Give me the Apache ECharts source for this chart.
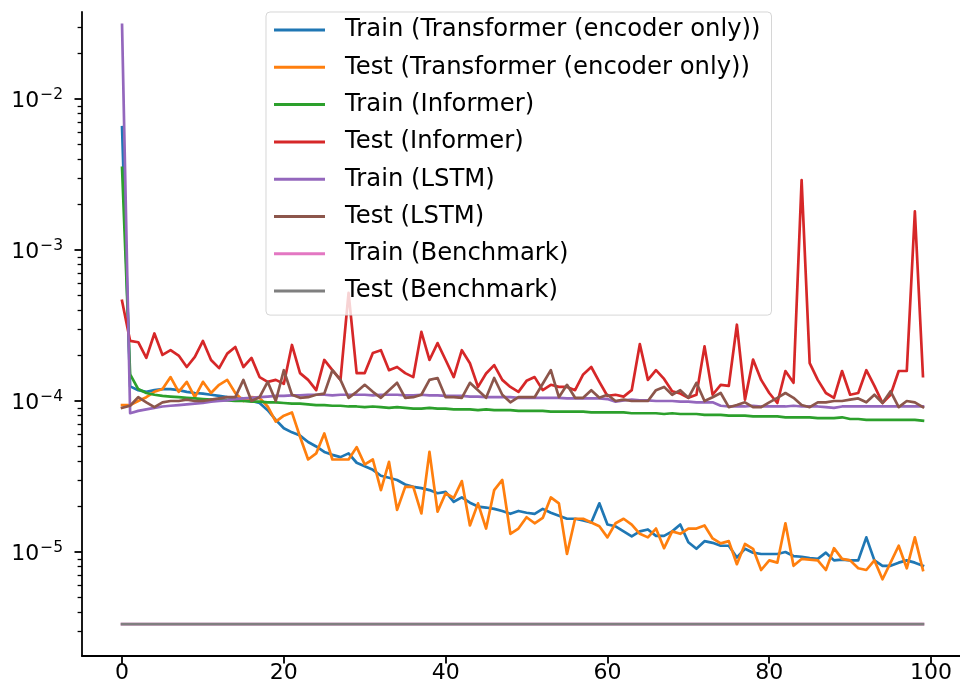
<!DOCTYPE html>
<html>
<head>
<meta charset="utf-8">
<script src="https://cdn.jsdelivr.net/npm/echarts@6/dist/echarts.min.js"></script>
<style>
html,body{margin:0;padding:0;background:#fff;}
#chart{width:960px;height:693px;}
</style>
</head>
<body>
<div id="chart"></div>
<script>
// ---------------- DATA ----------------
const epochs = [0,1,2,3,4,5,6,7,8,9,10,11,12,13,14,15,16,17,18,19,20,21,22,23,24,25,26,27,28,29,30,31,32,33,34,35,36,37,38,39,40,41,42,43,44,45,46,47,48,49,50,51,52,53,54,55,56,57,58,59,60,61,62,63,64,65,66,67,68,69,70,71,72,73,74,75,76,77,78,79,80,81,82,83,84,85,86,87,88,89,90,91,92,93,94,95,96,97,98,99];

const seriesNames = [
  'Train (Transformer (encoder only))',
  'Test (Transformer (encoder only))',
  'Train (Informer)',
  'Test (Informer)',
  'Train (LSTM)',
  'Test (LSTM)',
  'Train (Benchmark)',
  'Test (Benchmark)'
];

const trainTransformer = [6.5e-3,1.25e-4,1.18e-4,1.15e-4,1.18e-4,1.2e-4,1.2e-4,1.18e-4,1.15e-4,1.13e-4,
1.12e-4,1.1e-4,1.08e-4,1.06e-4,1.05e-4,1.04e-4,1.0e-4,9.7e-5,8.7e-5,7.5e-5,
6.6e-5,6.2e-5,5.9e-5,5.35e-5,5.0e-5,4.6e-5,4.4e-5,4.25e-5,4.5e-5,3.9e-5,
3.7e-5,3.5e-5,3.2e-5,3.1e-5,3.0e-5,2.8e-5,2.7e-5,2.65e-5,2.57e-5,2.45e-5,
2.5e-5,2.15e-5,2.3e-5,2.12e-5,2.0e-5,1.97e-5,1.93e-5,1.87e-5,1.79e-5,1.87e-5,
1.82e-5,1.79e-5,1.93e-5,1.82e-5,1.74e-5,1.66e-5,1.66e-5,1.62e-5,1.57e-5,2.1e-5,
1.52e-5,1.48e-5,1.37e-5,1.27e-5,1.37e-5,1.41e-5,1.28e-5,1.28e-5,1.37e-5,1.52e-5,
1.16e-5,1.05e-5,1.18e-5,1.15e-5,1.1e-5,1.1e-5,9.2e-6,1.05e-5,9.9e-6,9.7e-6,
9.7e-6,9.7e-6,1.0e-5,9.4e-6,9.3e-6,9.1e-6,9.0e-6,9.9e-6,8.8e-6,8.9e-6,
8.8e-6,8.8e-6,1.25e-5,8.8e-6,8.1e-6,8.1e-6,8.5e-6,8.8e-6,8.5e-6,8.1e-6];

const testTransformer = [9.4e-5,9.4e-5,1.0e-4,1.06e-4,1.15e-4,1.2e-4,1.44e-4,1.15e-4,1.34e-4,1.06e-4,
1.34e-4,1.13e-4,1.28e-4,1.38e-4,1.13e-4,1.0e-4,1.06e-4,1.05e-4,9.2e-5,7.3e-5,
8.0e-5,8.4e-5,5.8e-5,4.1e-5,4.5e-5,6.1e-5,4.1e-5,4.1e-5,4.1e-5,4.95e-5,
3.8e-5,4.1e-5,2.57e-5,3.95e-5,1.9e-5,2.7e-5,2.7e-5,1.8e-5,4.6e-5,1.85e-5,
2.45e-5,2.28e-5,2.95e-5,1.5e-5,2.1e-5,1.43e-5,2.57e-5,3.0e-5,1.32e-5,1.43e-5,
1.7e-5,1.55e-5,1.68e-5,2.3e-5,2.1e-5,9.7e-6,1.66e-5,1.66e-5,1.57e-5,1.48e-5,
1.25e-5,1.55e-5,1.66e-5,1.52e-5,1.32e-5,1.25e-5,1.43e-5,1.06e-5,1.37e-5,1.32e-5,
1.43e-5,1.43e-5,1.5e-5,1.23e-5,1.14e-5,1.18e-5,8.3e-6,1.13e-5,1.05e-5,7.6e-6,
8.8e-6,8.5e-6,1.55e-5,8.1e-6,9.0e-6,8.9e-6,8.8e-6,7.6e-6,1.06e-5,9.0e-6,
8.8e-6,7.8e-6,7.6e-6,8.8e-6,6.6e-6,8.5e-6,1.1e-5,7.8e-6,1.25e-5,7.6e-6];

const trainInformer = [3.5e-3,1.5e-4,1.2e-4,1.13e-4,1.1e-4,1.08e-4,1.07e-4,1.06e-4,1.05e-4,1.04e-4,
1.03e-4,1.02e-4,1.02e-4,1.01e-4,1.0e-4,1.0e-4,9.9e-5,9.9e-5,9.8e-5,9.8e-5,
9.7e-5,9.6e-5,9.6e-5,9.5e-5,9.4e-5,9.4e-5,9.3e-5,9.3e-5,9.2e-5,9.2e-5,
9.1e-5,9.2e-5,9.1e-5,9.0e-5,9.1e-5,9.0e-5,8.9e-5,8.9e-5,9.0e-5,8.9e-5,
8.9e-5,8.8e-5,8.8e-5,8.8e-5,8.7e-5,8.8e-5,8.7e-5,8.7e-5,8.7e-5,8.6e-5,
8.6e-5,8.6e-5,8.6e-5,8.5e-5,8.5e-5,8.5e-5,8.5e-5,8.5e-5,8.4e-5,8.4e-5,
8.4e-5,8.4e-5,8.4e-5,8.3e-5,8.3e-5,8.3e-5,8.3e-5,8.2e-5,8.3e-5,8.2e-5,
8.2e-5,8.2e-5,8.1e-5,8.1e-5,8.1e-5,8.0e-5,8.0e-5,8.0e-5,7.9e-5,7.9e-5,
7.9e-5,7.9e-5,7.8e-5,7.8e-5,7.8e-5,7.8e-5,7.7e-5,7.7e-5,7.7e-5,7.8e-5,
7.6e-5,7.6e-5,7.5e-5,7.5e-5,7.5e-5,7.5e-5,7.5e-5,7.5e-5,7.5e-5,7.4e-5];

const testInformer = [4.6e-4,2.5e-4,2.45e-4,1.93e-4,2.8e-4,2.02e-4,2.17e-4,2.0e-4,1.68e-4,1.96e-4,
2.5e-4,1.87e-4,1.65e-4,2.06e-4,2.28e-4,1.68e-4,1.93e-4,1.44e-4,1.34e-4,1.38e-4,
1.3e-4,2.35e-4,1.53e-4,1.38e-4,1.18e-4,1.87e-4,1.6e-4,1.38e-4,5.2e-4,1.53e-4,
1.53e-4,2.08e-4,2.17e-4,1.6e-4,1.68e-4,1.53e-4,1.44e-4,2.87e-4,1.87e-4,2.42e-4,
1.87e-4,1.44e-4,2.17e-4,1.78e-4,1.24e-4,1.52e-4,1.73e-4,1.38e-4,1.24e-4,1.15e-4,
1.36e-4,1.44e-4,1.18e-4,1.28e-4,1.24e-4,1.24e-4,1.18e-4,1.5e-4,1.68e-4,1.34e-4,
1.08e-4,1.1e-4,1.07e-4,1.18e-4,2.38e-4,1.38e-4,1.6e-4,1.4e-4,1.16e-4,1.12e-4,
1.05e-4,1.1e-4,2.3e-4,1.1e-4,1.28e-4,1.26e-4,3.2e-4,1.02e-4,1.88e-4,1.38e-4,
1.13e-4,9.7e-5,1.58e-4,1.32e-4,2.9e-3,1.78e-4,1.38e-4,1.13e-4,1.05e-4,1.58e-4,
1.1e-4,1.13e-4,1.6e-4,1.26e-4,9.7e-5,1.1e-4,1.58e-4,1.58e-4,1.8e-3,1.46e-4];

const trainLSTM = [3.1e-2,8.3e-5,8.6e-5,8.8e-5,9.0e-5,9.2e-5,9.3e-5,9.4e-5,9.5e-5,9.6e-5,
9.7e-5,9.9e-5,1.0e-4,1.01e-4,1.03e-4,1.04e-4,1.05e-4,1.06e-4,1.07e-4,1.08e-4,
1.08e-4,1.09e-4,1.09e-4,1.1e-4,1.1e-4,1.1e-4,1.09e-4,1.1e-4,1.1e-4,1.1e-4,
1.1e-4,1.09e-4,1.1e-4,1.1e-4,1.1e-4,1.09e-4,1.09e-4,1.1e-4,1.09e-4,1.09e-4,
1.08e-4,1.08e-4,1.08e-4,1.07e-4,1.07e-4,1.06e-4,1.06e-4,1.06e-4,1.06e-4,1.05e-4,
1.05e-4,1.05e-4,1.05e-4,1.05e-4,1.05e-4,1.04e-4,1.04e-4,1.04e-4,1.04e-4,1.04e-4,
1.03e-4,9.9e-5,1.01e-4,1.02e-4,1.01e-4,1.01e-4,1.0e-4,1.0e-4,1.0e-4,9.9e-5,
9.9e-5,9.8e-5,9.8e-5,9.8e-5,9.3e-5,9.2e-5,9.2e-5,9.2e-5,9.3e-5,9.2e-5,
9.2e-5,9.2e-5,9.2e-5,9.3e-5,9.2e-5,9.2e-5,9.2e-5,9.1e-5,9.0e-5,9.2e-5,
9.2e-5,9.2e-5,9.2e-5,9.2e-5,9.2e-5,9.2e-5,9.2e-5,9.2e-5,9.2e-5,9.2e-5];

const testLSTM = [9.0e-5,9.3e-5,1.06e-4,9.8e-5,9.1e-5,9.8e-5,1.0e-4,1.0e-4,1.02e-4,1.0e-4,
1.0e-4,1.02e-4,1.04e-4,1.06e-4,1.06e-4,1.38e-4,1.0e-4,1.06e-4,1.34e-4,1.0e-4,
1.6e-4,1.1e-4,1.05e-4,1.06e-4,1.1e-4,1.12e-4,1.6e-4,1.38e-4,1.05e-4,1.15e-4,
1.28e-4,1.15e-4,1.05e-4,1.18e-4,1.32e-4,1.05e-4,1.06e-4,1.1e-4,1.38e-4,1.42e-4,
1.06e-4,1.06e-4,1.05e-4,1.32e-4,1.18e-4,1.05e-4,1.42e-4,1.1e-4,9.8e-5,1.06e-4,
1.06e-4,1.06e-4,1.3e-4,1.6e-4,1.06e-4,1.28e-4,1.05e-4,1.05e-4,1.18e-4,1.05e-4,
1.1e-4,1.0e-4,1.02e-4,1.0e-4,1.0e-4,1.0e-4,1.18e-4,1.24e-4,1.1e-4,1.18e-4,
1.05e-4,1.32e-4,1.0e-4,1.06e-4,1.13e-4,9.1e-5,9.4e-5,9.8e-5,9.1e-5,9.1e-5,
9.8e-5,1.05e-4,1.13e-4,1.05e-4,9.4e-5,9.1e-5,9.8e-5,9.8e-5,1.0e-4,1.0e-4,
1.02e-4,1.04e-4,9.8e-5,1.1e-4,9.7e-5,1.16e-4,9.1e-5,1.0e-4,9.8e-5,9.1e-5];

const trainBenchmark = [3.33e-6,3.33e-6,3.33e-6,3.33e-6,3.33e-6,3.33e-6,3.33e-6,3.33e-6,3.33e-6,3.33e-6,
3.33e-6,3.33e-6,3.33e-6,3.33e-6,3.33e-6,3.33e-6,3.33e-6,3.33e-6,3.33e-6,3.33e-6,
3.33e-6,3.33e-6,3.33e-6,3.33e-6,3.33e-6,3.33e-6,3.33e-6,3.33e-6,3.33e-6,3.33e-6,
3.33e-6,3.33e-6,3.33e-6,3.33e-6,3.33e-6,3.33e-6,3.33e-6,3.33e-6,3.33e-6,3.33e-6,
3.33e-6,3.33e-6,3.33e-6,3.33e-6,3.33e-6,3.33e-6,3.33e-6,3.33e-6,3.33e-6,3.33e-6,
3.33e-6,3.33e-6,3.33e-6,3.33e-6,3.33e-6,3.33e-6,3.33e-6,3.33e-6,3.33e-6,3.33e-6,
3.33e-6,3.33e-6,3.33e-6,3.33e-6,3.33e-6,3.33e-6,3.33e-6,3.33e-6,3.33e-6,3.33e-6,
3.33e-6,3.33e-6,3.33e-6,3.33e-6,3.33e-6,3.33e-6,3.33e-6,3.33e-6,3.33e-6,3.33e-6,
3.33e-6,3.33e-6,3.33e-6,3.33e-6,3.33e-6,3.33e-6,3.33e-6,3.33e-6,3.33e-6,3.33e-6,
3.33e-6,3.33e-6,3.33e-6,3.33e-6,3.33e-6,3.33e-6,3.33e-6,3.33e-6,3.33e-6,3.33e-6];

const testBenchmark = [3.33e-6,3.33e-6,3.33e-6,3.33e-6,3.33e-6,3.33e-6,3.33e-6,3.33e-6,3.33e-6,3.33e-6,
3.33e-6,3.33e-6,3.33e-6,3.33e-6,3.33e-6,3.33e-6,3.33e-6,3.33e-6,3.33e-6,3.33e-6,
3.33e-6,3.33e-6,3.33e-6,3.33e-6,3.33e-6,3.33e-6,3.33e-6,3.33e-6,3.33e-6,3.33e-6,
3.33e-6,3.33e-6,3.33e-6,3.33e-6,3.33e-6,3.33e-6,3.33e-6,3.33e-6,3.33e-6,3.33e-6,
3.33e-6,3.33e-6,3.33e-6,3.33e-6,3.33e-6,3.33e-6,3.33e-6,3.33e-6,3.33e-6,3.33e-6,
3.33e-6,3.33e-6,3.33e-6,3.33e-6,3.33e-6,3.33e-6,3.33e-6,3.33e-6,3.33e-6,3.33e-6,
3.33e-6,3.33e-6,3.33e-6,3.33e-6,3.33e-6,3.33e-6,3.33e-6,3.33e-6,3.33e-6,3.33e-6,
3.33e-6,3.33e-6,3.33e-6,3.33e-6,3.33e-6,3.33e-6,3.33e-6,3.33e-6,3.33e-6,3.33e-6,
3.33e-6,3.33e-6,3.33e-6,3.33e-6,3.33e-6,3.33e-6,3.33e-6,3.33e-6,3.33e-6,3.33e-6,
3.33e-6,3.33e-6,3.33e-6,3.33e-6,3.33e-6,3.33e-6,3.33e-6,3.33e-6,3.33e-6,3.33e-6];

const xTickValues = [0, 20, 40, 60, 80, 100];
const yTickExponents = [-5, -4, -3, -2];

// ---------------- CHART ----------------
const FONT = 'DejaVu Sans';
const colors = ['#1f77b4','#ff7f0e','#2ca02c','#d62728','#9467bd','#8c564b','#e377c2','#7f7f7f'];
const seriesValues = [trainTransformer, testTransformer, trainInformer, testInformer,
                      trainLSTM, testLSTM, trainBenchmark, testBenchmark];

// axis range (log10 space) matching the figure's view
const yMinExp = -5.6887, yMaxExp = -1.4238;
const xMin = -4.95, xMax = 103.95;

// minor ticks of a log axis: k * 10^e, k = 2..9
const minorTickExps = [];
for (let e = -6; e <= -1; e++) {
  for (let k = 2; k <= 9; k++) {
    const v = Math.log10(k) + e;
    if (v > yMinExp && v < yMaxExp) minorTickExps.push(v);
  }
}

const series = seriesNames.map((name, s) => ({
  name: name,
  type: 'line',
  xAxisIndex: 0,
  yAxisIndex: 0,
  showSymbol: false,
  symbol: 'none',
  silent: true,
  animation: false,
  clip: true,
  itemStyle: { color: colors[s] },
  lineStyle: { color: colors[s], width: 2.7, join: 'round', cap: 'square' },
  data: epochs.map((x, i) => [x, seriesValues[s][i]])
}));

const chart = echarts.init(document.getElementById('chart'), null, { renderer: 'canvas' });
chart.setOption({
  animation: false,
  backgroundColor: '#ffffff',
  grid: { left: 82, top: 12, width: 881, height: 644, containLabel: false, outerBoundsMode: 'none' },
  legend: {
    data: seriesNames,
    orient: 'vertical',
    left: 266,
    top: 12,
    padding: [4, 11, 10, 8],
    itemGap: 9.3,
    itemWidth: 51,
    itemHeight: 3,
    icon: 'rect',
    backgroundColor: 'rgba(255,255,255,0.8)',
    borderColor: 'rgba(204,204,204,0.8)',
    borderWidth: 1,
    borderRadius: 4,
    selectedMode: false,
    formatter: '{g| }{name}',
    textStyle: {
      fontFamily: FONT, fontSize: 24.3, color: '#000', lineHeight: 28,
      rich: { g: { width: 15 } }
    }
  },
  xAxis: [{
    type: 'value',
    min: xMin, max: xMax,
    axisLine: { show: true, onZero: false, lineStyle: { color: '#000', width: 1.8 } },
    axisTick: { show: true, customValues: xTickValues, length: 7.5, lineStyle: { color: '#000', width: 1.8 } },
    axisLabel: { show: true, customValues: xTickValues, margin: 6, fontFamily: FONT, fontSize: 22, color: '#000' },
    splitLine: { show: false }
  }],
  yAxis: [
    {
      type: 'log', logBase: 10,
      min: Math.pow(10, yMinExp), max: Math.pow(10, yMaxExp),
      show: false,
      splitLine: { show: false }
    },
    {
      type: 'value', position: 'left', offset: 0,
      min: yMinExp, max: yMaxExp,
      axisLine: { show: true, onZero: false, lineStyle: { color: '#000', width: 1.8 } },
      axisTick: { show: true, customValues: yTickExponents, length: 7.5, lineStyle: { color: '#000', width: 1.8 } },
      axisLabel: {
        show: true, customValues: yTickExponents, margin: 19,
        formatter: v => '{b|10}{s|\u2212' + Math.abs(Math.round(v)) + '}',
        rich: {
          b: { fontFamily: FONT, fontSize: 22, color: '#000', padding: [5, 0, 0, 0] },
          s: { fontFamily: FONT, fontSize: 15.5, color: '#000', padding: [0, 0, 9, 1] }
        }
      },
      splitLine: { show: false }
    },
    {
      type: 'value', position: 'left', offset: 0,
      min: yMinExp, max: yMaxExp,
      axisLine: { show: false },
      axisTick: { show: true, customValues: minorTickExps, length: 4.4, lineStyle: { color: '#000', width: 1.3 } },
      axisLabel: { show: false },
      splitLine: { show: false }
    }
  ],
  series: series
});
</script>
</body>
</html>
